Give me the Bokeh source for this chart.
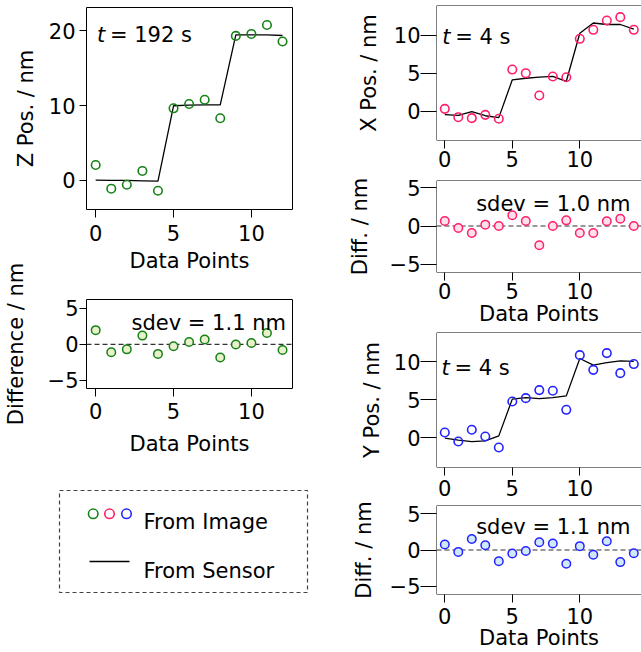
from bokeh.plotting import figure
from bokeh.layouts import row, column
from bokeh.models import Range1d, FixedTicker, Span, Label
from bokeh.embed import file_html
from bokeh.resources import INLINE

# ---------------- data ----------------
z_points = [0, 1, 2, 3, 4, 5, 6, 7, 8, 9, 10, 11, 12]
z_image = [2.06, -1.10, -0.58, 1.27, -1.37, 9.63, 10.20, 10.77, 8.31, 19.30, 19.56, 20.75, 18.55]
z_sensor = [0.05, 0.02, 0.00, -0.05, -0.10, 9.97, 10.06, 10.10, 10.10, 19.43, 19.43, 19.43, 19.35]
z_diff = [1.96, -1.10, -0.70, 1.20, -1.33, -0.27, 0.31, 0.67, -1.82, -0.04, 0.18, 1.56, -0.80]

xy_points = [0, 1, 2, 3, 4, 5, 6, 7, 8, 9, 10, 11, 12, 13, 14]
x_image = [0.31, -0.79, -0.92, -0.48, -1.00, 5.50, 5.02, 2.07, 4.58, 4.49, 9.56, 10.75, 11.98, 12.42, 10.75]
x_sensor = [-0.45, -0.55, -0.05, -0.60, -0.85, 4.15, 4.35, 4.50, 4.60, 3.95, 10.30, 11.65, 11.45, 11.45, 10.85]
x_diff = [0.65, -0.26, -0.91, 0.18, 0.00, 1.40, 0.65, -2.52, 0.00, 0.74, -0.91, -0.91, 0.61, 0.96, 0.00]

y_image = [0.66, -0.53, 1.02, 0.13, -1.32, 4.76, 5.20, 6.26, 6.17, 3.66, 10.88, 8.94, 11.15, 8.50, 9.70]
y_sensor = [-0.09, -0.35, -0.53, -0.44, 0.22, 5.07, 5.28, 5.15, 5.28, 5.50, 10.44, 9.56, 9.90, 10.13, 10.05]
y_diff = [0.75, -0.26, 1.50, 0.66, -1.53, -0.48, -0.13, 1.06, 0.88, -1.89, 0.53, -0.66, 1.19, -1.66, -0.44]

x_ticks = [0, 5, 10]
z_ticks = [0, 10, 20]
pos_ticks = [0, 5, 10]
diff_ticks = [-5, 0, 5]

z_time = "= 192 s"
xy_time = "= 4 s"
z_sdev = "sdev = 1.1 nm"
x_sdev = "sdev = 1.0 nm"
y_sdev = "sdev = 1.1 nm"
legend_labels = ["From Image", "From Sensor"]

# ---------------- style ----------------
FONT = "DejaVu Sans"
FS = "21px"
GREEN = "#168216"
PINK = "#ff2068"
BLUE = "#2424ff"
GREEN_FILL = "#e9f0cc"
PINK_FILL = "#fde0ea"
BLUE_FILL = "#d0e8f8"


def make_fig(width, height, xr, yr, mb, outline=True):
    p = figure(width=width, height=height,
               x_range=Range1d(*xr), y_range=Range1d(*yr),
               output_backend="svg", toolbar_location=None,
               min_border_top=mb[0], min_border_right=mb[1],
               min_border_bottom=mb[2], min_border_left=mb[3])
    p.xgrid.visible = False
    p.ygrid.visible = False
    p.background_fill_color = "white"
    p.border_fill_color = None
    if outline:
        p.outline_line_color = "black"
        p.outline_line_width = 1
    else:
        p.outline_line_color = None
        for loc, dim in ((xr[0], "height"), (yr[0], "width"), (yr[1], "width")):
            p.add_layout(Span(location=loc, dimension=dim, line_color="black", line_width=1))
    return p


def style_axis(ax, ticks, tick_out, standoff, label=None, label_standoff=0):
    ax.ticker = FixedTicker(ticks=ticks)
    ax.axis_line_color = None
    ax.major_tick_in = 0
    ax.major_tick_out = tick_out
    ax.major_tick_line_color = "black"
    ax.minor_tick_line_color = None
    ax.major_label_standoff = standoff
    ax.major_label_text_font = FONT
    ax.major_label_text_font_size = FS
    ax.major_label_text_color = "black"
    ax.axis_label = label
    ax.axis_label_standoff = label_standoff
    ax.axis_label_text_font = FONT
    ax.axis_label_text_font_size = FS
    ax.axis_label_text_font_style = "normal"
    ax.axis_label_text_color = "black"


def add_text(p, x, y, text, align="left", style="normal", x_offset=0):
    p.add_layout(Label(x=x, y=y, text=text, x_offset=x_offset,
                       text_font=FONT, text_font_size=FS, text_font_style=style,
                       text_color="black", text_align=align, text_baseline="alphabetic"))


def pos_panel(p, xs, image, sensor, color):
    p.line(xs, sensor, line_color="black", line_width=1.3)
    p.scatter(xs, image, size=8.5, fill_color=None, line_color=color, line_width=1.6)


def diff_panel(p, xs, diff, color, fill):
    p.add_layout(Span(location=0, dimension="width", line_color="#333333",
                      line_width=1.2, line_dash="5 3", level="underlay"))
    p.scatter(xs, diff, size=8.5, fill_color=fill, line_color=color, line_width=1.5)


LW, RW = 332, 309
LX = (-0.59, 12.64)
RX = (-0.615, 14.57)

# ---- A: Z position ----
pA = make_fig(LW, 275, LX, (-3.88, 23.09), (7, 40, 63, 83))
pos_panel(pA, z_points, z_image, z_sensor, GREEN)
style_axis(pA.xaxis[0], x_ticks, 8, 7, "Data Points", 5)
style_axis(pA.yaxis[0], z_ticks, 7, 4, "Z Pos. / nm", 8)
add_text(pA, 0.08, 19.4, "t", style="italic")
add_text(pA, 0.08, 19.4, z_time, x_offset=13)

# ---- B: Z difference ----
pB = make_fig(LW, 197, LX, (-6.12, 6.2), (38, 40, 66, 83))
pB.margin = (-14, 0, 0, 0)
diff_panel(pB, z_points, z_diff, GREEN, GREEN_FILL)
style_axis(pB.xaxis[0], x_ticks, 8, 6, "Data Points", 10)
style_axis(pB.yaxis[0], diff_ticks, 7, 1, "Difference / nm", 17)
add_text(pB, 12.22, 3.0, z_sdev, align="right")

# ---- Legend (the frame is the dashed box; coordinates are page pixels) ----
pL = figure(width=LW, height=138, x_range=Range1d(59, 307), y_range=Range1d(592, 490),
            x_axis_type=None, y_axis_type=None, output_backend="svg", toolbar_location=None,
            min_border_top=32, min_border_bottom=4, min_border_left=59, min_border_right=25)
pL.xgrid.visible = False
pL.ygrid.visible = False
pL.border_fill_color = None
pL.background_fill_color = None
pL.outline_line_color = "#444444"
pL.outline_line_width = 1.2
pL.outline_line_dash = "4 3"
pL.scatter([92.7, 109.0, 126.0], [513.3, 513.3, 513.3], size=9.5, fill_color=None,
           line_color=[GREEN, PINK, BLUE], line_width=1.6)
pL.line([89, 129], [561, 561], line_color="black", line_width=1.3)
add_text(pL, 143, 521.7, legend_labels[0])
add_text(pL, 143, 570.7, legend_labels[1])

# ---- C: X position ----
pC = make_fig(RW, 175, RX, (-3.87, 13.96), (5, 0, 35, 104), outline=False)
pos_panel(pC, xy_points, x_image, x_sensor, PINK)
style_axis(pC.xaxis[0], x_ticks, 8, 2)
style_axis(pC.yaxis[0], pos_ticks, 16, 0, "X Pos. / nm", 10)
add_text(pC, -0.19, 9.86, "t", style="italic")
add_text(pC, -0.19, 9.86, xy_time, x_offset=13)

# ---- D: X difference ----
pD = make_fig(RW, 153, RX, (-6.08, 5.95), (5, 0, 56, 104), outline=False)
diff_panel(pD, xy_points, x_diff, PINK, PINK_FILL)
style_axis(pD.xaxis[0], x_ticks, 8, 2, "Data Points", 0)
style_axis(pD.yaxis[0], diff_ticks, 16, 0, "Diff. / nm", 15)
add_text(pD, 13.76, 2.91, x_sdev, align="right")

# ---- E: Y position ----
pE = make_fig(RW, 172, RX, (-3.96, 13.87), (4, 0, 33, 104), outline=False)
pos_panel(pE, xy_points, y_image, y_sensor, BLUE)
style_axis(pE.xaxis[0], x_ticks, 8, 4)
style_axis(pE.yaxis[0], pos_ticks, 16, 0, "Y Pos. / nm", 7)
add_text(pE, -0.25, 9.21, "t", style="italic")
add_text(pE, -0.25, 9.21, xy_time, x_offset=13)

# ---- F: Y difference ----
pF = make_fig(RW, 152, RX, (-6.1, 6.1), (5, 0, 55, 104), outline=False)
diff_panel(pF, xy_points, y_diff, BLUE, BLUE_FILL)
style_axis(pF.xaxis[0], x_ticks, 8, 5, "Data Points", -1)
style_axis(pF.yaxis[0], diff_ticks, 16, 0, "Diff. / nm", 11)
add_text(pF, 13.76, 3.19, y_sdev, align="right")

left = column(column(pA, pB), row(pL))
layout = row(left, column(pC, pD, pE, pF))

open("out.html", "w").write(file_html(layout, INLINE))
